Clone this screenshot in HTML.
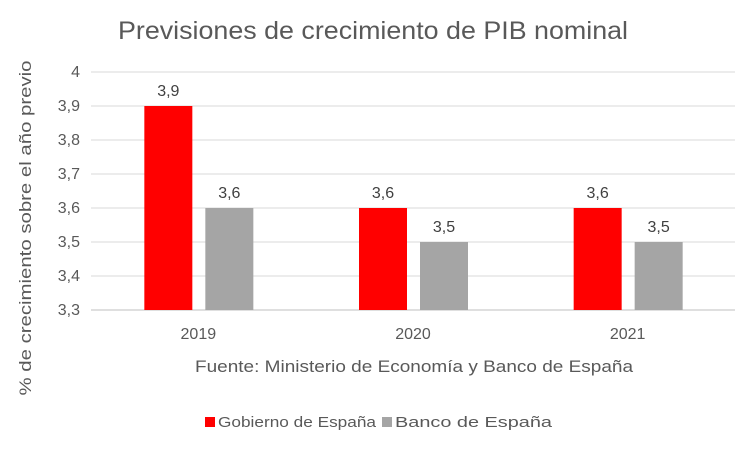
<!DOCTYPE html>
<html><head><meta charset="utf-8"><style>
body{margin:0;background:#fff;}
svg{display:block;font-family:"Liberation Sans",sans-serif;}
</style></head><body>
<svg id="c" width="748" height="451">
<text x="373" y="39" text-anchor="middle" font-size="25" textLength="510" lengthAdjust="spacingAndGlyphs" fill="#595959">Previsiones de crecimiento de PIB nominal</text>
<text transform="translate(31,228) rotate(-90)" text-anchor="middle" font-size="17" textLength="335" lengthAdjust="spacingAndGlyphs" fill="#595959">% de crecimiento sobre el año previo</text>
<text x="414" y="372" text-anchor="middle" font-size="17" textLength="438" lengthAdjust="spacingAndGlyphs" fill="#595959">Fuente: Ministerio de Economía y Banco de España</text>
<g id="grid"></g><g id="bars"></g>
<g>
<rect x="205" y="417" width="10" height="10" fill="#FF0000"/>
<text x="218" y="427" font-size="15" textLength="158" lengthAdjust="spacingAndGlyphs" fill="#595959">Gobierno de España</text>
<rect x="382" y="417" width="10" height="10" fill="#A5A5A5"/>
<text x="395" y="427" font-size="15" textLength="157" lengthAdjust="spacingAndGlyphs" fill="#595959">Banco de España</text>
</g>
</svg>
<script>
const categories=["2019","2020","2021"];
const gobierno=[3.9,3.6,3.6];
const banco=[3.6,3.5,3.5];
const ticks=[3.3,3.4,3.5,3.6,3.7,3.8,3.9,4];
const ns="http://www.w3.org/2000/svg";
const L=91,R=735,T=72,B=310,ymin=3.3,ymax=4;
const y=v=>B-(v-ymin)/(ymax-ymin)*(B-T);
const band=(R-L)/categories.length;
const grid=document.getElementById('grid'),bars=document.getElementById('bars');
function mk(tag,at,p){const e=document.createElementNS(ns,tag);for(const k in at)e.setAttribute(k,at[k]);p.appendChild(e);return e;}
ticks.forEach(t=>{
 const l=mk('line',{x1:L,x2:R,y1:y(t),y2:y(t),stroke:t===ymin?'#bfbfbf':'#d9d9d9','stroke-width':1},grid);
 
 
 const tx=mk('text',{x:80,y:y(t)+5,'text-anchor':'end','font-size':16,fill:'#595959'},grid);
 tx.textContent=String(t).replace('.',',');
 
 
});
const bw=48;
categories.forEach((c,i)=>{
 const cx=L+band*(i+0.5);
 [[gobierno,'#FF0000',cx-54],[banco,'#A5A5A5',cx+7]].forEach(([s,col,x],j)=>{
  const v=s[i];
  const r=mk('rect',{x:x,y:y(v),width:bw,height:B-y(v),fill:col},bars);
  
  
  const lb=mk('text',{x:x+bw/2,y:y(v)-10,'text-anchor':'middle','font-size':16,fill:'#404040'},bars);
  lb.textContent=String(v).replace('.',',');
  
  
 });
 const xl=mk('text',{x:cx,y:B+29,'text-anchor':'middle','font-size':16,fill:'#595959'},bars);
 xl.textContent=c;
 
 
});
</script>
</body></html>
